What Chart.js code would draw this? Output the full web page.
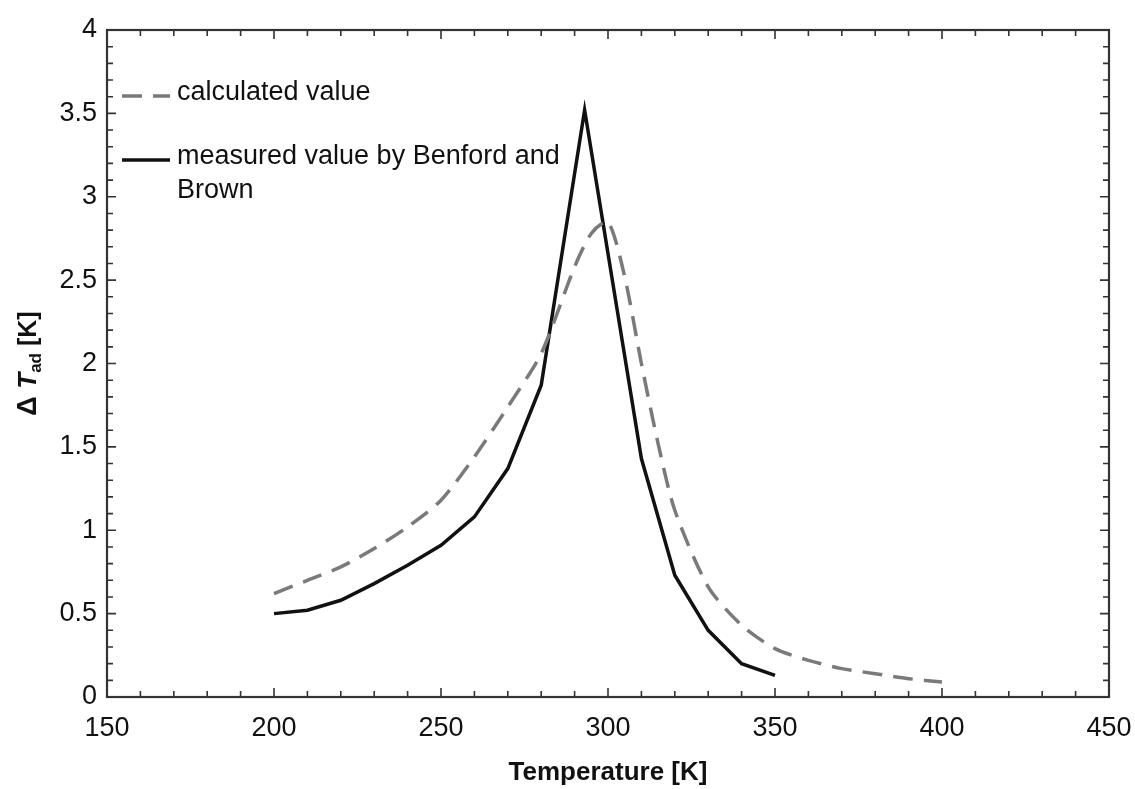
<!DOCTYPE html>
<html>
<head>
<meta charset="utf-8">
<script src="https://cdn.jsdelivr.net/npm/chart.js@4.4.1/dist/chart.umd.min.js"></script>
<style>
  html, body { margin: 0; padding: 0; background: #ffffff; }
  #wrap { width: 1135px; height: 789px; position: relative; }
</style>
</head>
<body>
<div id="wrap"><canvas id="chart-tad"></canvas></div>
<script>
const FONT = "'Liberation Sans', Arial, Helvetica, sans-serif";

// calculated value (dashed)
const calcT = [200, 210, 220, 230, 240, 250, 260, 270, 280, 290, 295, 300, 305, 310, 315, 320, 330, 340, 350, 360, 370, 380, 390, 400];
const calcDT = [0.62, 0.70, 0.78, 0.89, 1.02, 1.18, 1.44, 1.74, 2.06, 2.58, 2.78, 2.85, 2.52, 2.0, 1.52, 1.12, 0.66, 0.43, 0.29, 0.22, 0.17, 0.14, 0.11, 0.09];

// measured value by Benford and Brown (solid)
const measT = [200, 210, 220, 230, 240, 250, 260, 270, 280, 293, 310, 320, 330, 340, 350];
const measDT = [0.50, 0.52, 0.58, 0.68, 0.79, 0.91, 1.08, 1.37, 1.87, 3.52, 1.43, 0.73, 0.40, 0.20, 0.13];

const legendLabels = ["calculated value", ["measured value by Benford and", "Brown"]];
const xTitle = "Temperature [K]";

const calcColor = "#7a7a7a";
const measColor = "#111111";

function toPoints(xs, ys) {
  return xs.map((x, i) => ({ x: x, y: ys[i] }));
}

// frame, inward ticks on all four sides
const framePlugin = {
  id: "frame",
  afterDatasetsDraw(chart) {
    const ctx = chart.ctx;
    const a = chart.chartArea;
    const xs = chart.scales.x;
    const ys = chart.scales.y;
    ctx.save();
    ctx.strokeStyle = "#333333";
    ctx.lineWidth = 1.6;
    for (let v = 150; v <= 450; v += 10) {
      const px = xs.getPixelForValue(v);
      const len = v % 50 === 0 ? 9 : 6;
      ctx.beginPath();
      ctx.moveTo(px, a.bottom); ctx.lineTo(px, a.bottom - len);
      ctx.moveTo(px, a.top); ctx.lineTo(px, a.top + len);
      ctx.stroke();
    }
    for (let i = 0; i <= 40; i++) {
      const py = ys.getPixelForValue(i / 10);
      const len = i % 5 === 0 ? 9 : 6;
      ctx.beginPath();
      ctx.moveTo(a.left, py); ctx.lineTo(a.left + len, py);
      ctx.moveTo(a.right, py); ctx.lineTo(a.right - len, py);
      ctx.stroke();
    }
    ctx.lineWidth = 2.2;
    ctx.strokeRect(a.left, a.top, a.right - a.left, a.bottom - a.top);
    ctx.restore();
  },
};

// legend in upper left, drawn with the dataset styles
const legendPlugin = {
  id: "legendBox",
  afterDraw(chart) {
    const ctx = chart.ctx;
    const a = chart.chartArea;
    ctx.save();
    ctx.font = "27px " + FONT;
    ctx.fillStyle = "#111111";
    ctx.textBaseline = "middle";
    const rows = [
      { ds: chart.data.datasets[0], y: a.top + 66, label: legendLabels[0] },
      { ds: chart.data.datasets[1], y: a.top + 130, label: legendLabels[1] },
    ];
    rows.forEach((r) => {
      ctx.strokeStyle = r.ds.borderColor;
      ctx.lineWidth = r.ds.borderWidth;
      ctx.setLineDash(r.ds.borderDash || []);
      ctx.beginPath();
      ctx.moveTo(a.left + 15, r.y);
      ctx.lineTo(a.left + 63, r.y);
      ctx.stroke();
      ctx.setLineDash([]);
      const lines = Array.isArray(r.label) ? r.label : [r.label];
      lines.forEach((t, k) => {
        ctx.fillText(t, a.left + 70, r.y - 3 + k * 34);
      });
    });
    ctx.restore();
  },
};

// y axis title with subscript
const yTitlePlugin = {
  id: "yTitle",
  afterDraw(chart) {
    const ctx = chart.ctx;
    const a = chart.chartArea;
    ctx.save();
    ctx.translate(27, (a.top + a.bottom) / 2);
    ctx.rotate(-Math.PI / 2);
    ctx.fillStyle = "#111111";
    ctx.textBaseline = "alphabetic";
    const parts = [
      { t: "\u0394 ", f: "bold 27px " + FONT, dy: 0 },
      { t: "T", f: "italic bold 26px " + FONT, dy: 0 },
      { t: "ad", f: "bold 17px " + FONT, dy: 5 },
      { t: " [K]", f: "bold 25px " + FONT, dy: 0 },
    ];
    let w = 0;
    parts.forEach((p) => { ctx.font = p.f; w += ctx.measureText(p.t).width; });
    let x = -w / 2;
    parts.forEach((p) => {
      ctx.font = p.f;
      ctx.fillText(p.t, x, 9 + p.dy);
      x += ctx.measureText(p.t).width;
    });
    ctx.restore();
  },
};

const chartTad = new Chart(document.getElementById("chart-tad"), {
  type: "line",
  data: {
    datasets: [
      {
        label: "calculated value",
        data: toPoints(calcT, calcDT),
        borderColor: calcColor,
        borderWidth: 3.5,
        borderDash: [20, 11],
        pointRadius: 0,
        tension: 0.25,
        fill: false,
      },
      {
        label: "measured value by Benford and Brown",
        data: toPoints(measT, measDT),
        borderColor: measColor,
        borderWidth: 3.5,
        pointRadius: 0,
        tension: 0,
        fill: false,
      },
    ],
  },
  options: {
    responsive: true,
    maintainAspectRatio: false,
    animation: false,
    layout: { padding: { top: 30, right: 26, left: 0, bottom: 0 } },
    plugins: {
      legend: { display: false },
      tooltip: { enabled: false },
    },
    scales: {
      x: {
        type: "linear",
        min: 150,
        max: 450,
        border: { display: false },
        grid: { display: false, drawTicks: false },
        ticks: {
          stepSize: 50,
          color: "#111111",
          padding: 15,
          font: { family: FONT, size: 27 },
        },
        title: {
          display: true,
          text: xTitle,
          color: "#111111",
          font: { family: FONT, size: 26, weight: "bold", lineHeight: 1 },
          padding: { top: 0, bottom: 3 },
        },
        afterFit(scale) {
          scale.height = 92;
          scale.paddingLeft = 0;
          scale.paddingRight = 0;
        },
      },
      y: {
        type: "linear",
        min: 0,
        max: 4,
        border: { display: false },
        grid: { display: false, drawTicks: false },
        ticks: {
          stepSize: 0.5,
          color: "#111111",
          padding: 10,
          font: { family: FONT, size: 27 },
          callback: (v) => String(Number(v)),
        },
        afterFit(scale) {
          scale.width = 107;
          scale.paddingTop = 0;
          scale.paddingBottom = 0;
        },
      },
    },
  },
  plugins: [framePlugin, legendPlugin, yTitlePlugin],
});
</script>
</body>
</html>
